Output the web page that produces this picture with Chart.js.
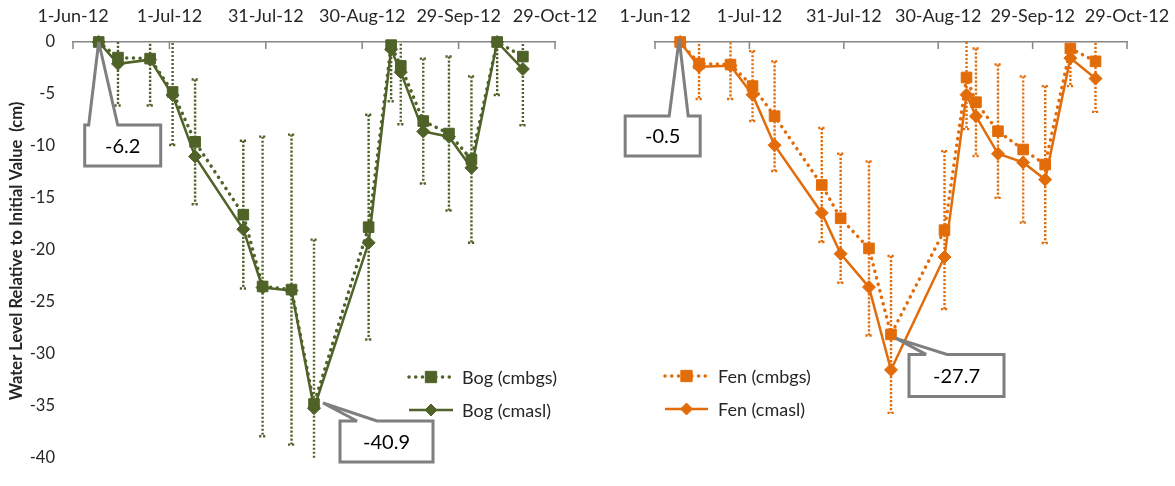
<!DOCTYPE html>
<html>
<head>
<meta charset="utf-8">
<title>Bog and Fen water level</title>
<script src="https://cdn.jsdelivr.net/npm/chart.js@4.4.1/dist/chart.umd.min.js"></script>
<style>
  html, body { margin: 0; padding: 0; background: #ffffff; }
  #wrap { position: relative; width: 1175px; height: 486px; overflow: hidden; }
  #wrap canvas { position: absolute; left: 0; top: 0; }
</style>
</head>
<body>
<div id="wrap">
  <canvas id="bogChart" width="1175" height="486"></canvas>
  <canvas id="fenChart" width="1175" height="486"></canvas>
</div>
<script>
// ---- data -------------------------------------------------------------
const sampleDates = [
  '2012-06-09', '2012-06-15', '2012-06-25', '2012-07-02', '2012-07-09',
  '2012-07-24', '2012-07-30', '2012-08-08', '2012-08-15', '2012-09-01',
  '2012-09-08', '2012-09-11', '2012-09-18', '2012-09-26', '2012-10-03',
  '2012-10-11', '2012-10-19'
];
const axisTickDates = ['2012-06-01', '2012-07-01', '2012-07-31', '2012-08-30', '2012-09-29', '2012-10-29'];
const yTicks = [0, -5, -10, -15, -20, -25, -30, -35, -40];

// Bog: change in water level (cm), below ground surface and above sea level
const bogCmbgs = [0, -1.5, -1.6, -4.8, -9.6, -16.6, -23.5, -23.8, -34.8, -17.8, -0.3, -2.3, -7.6, -8.8, -11.3, 0, -1.4];
const bogCmasl = [0, -2.1, -1.7, -5.1, -11.0, -18.0, -23.6, -23.9, -35.2, -19.3, -0.7, -2.9, -8.6, -9.1, -12.1, 0, -2.6];
const bogSD    = [4.6, 4.6, 4.5, 5.1, 6.0, 7.1, 14.4, 14.9, 15.8, 10.8, 5.4, 5.6, 6.0, 7.4, 8.0, 5.1, 6.6];

// Fen: change in water level (cm)
const fenCmbgs = [0, -2.0, -2.1, -4.1, -6.9, -13.3, -16.4, -19.2, -27.2, -17.5, -3.3, -5.6, -8.3, -10.0, -11.4, -0.6, -1.8];
const fenCmasl = [0, -2.3, -2.2, -4.9, -9.6, -15.9, -19.7, -22.8, -30.5, -20.0, -4.9, -6.9, -10.4, -11.2, -12.8, -1.5, -3.4];
const fenSD    = [3.4, 3.3, 3.2, 3.25, 5.1, 5.3, 6.0, 8.1, 7.3, 7.35, 4.8, 5.0, 6.2, 6.8, 7.3, 3.5, 4.7];

// callout notes attached to sample points
const bogCalloutText  = ['-6.2', '-40.9'];
const bogCalloutIndex = [0, 8];
const fenCalloutText  = ['-0.5', '-27.7'];
const fenCalloutIndex = [0, 8];

// ---- styling ----------------------------------------------------------
const GREEN = '#4f6228';
const ORANGE = '#e36c0a';
const AXIS_GREY = '#868686';
const TEXT = '#262626';
const FONT = 'Lato, "Open Sans", sans-serif';

Chart.defaults.font.family = FONT;

const MONTHS = ['Jan','Feb','Mar','Apr','May','Jun','Jul','Aug','Sep','Oct','Nov','Dec'];
const ORIGIN = Date.UTC(2012, 5, 1);
const toDay = s => (Date.parse(s + 'T00:00:00Z') - ORIGIN) / 86400000;
const dayLabel = v => {
  const d = new Date(ORIGIN + v * 86400000);
  return d.getUTCDate() + '-' + MONTHS[d.getUTCMonth()] + '-' + String(d.getUTCFullYear()).slice(2);
};

const sampleDays = sampleDates.map(toDay);
const tickDays = axisTickDates.map(toDay);

// ---- plugins ----------------------------------------------------------
function errorBarPlugin(centers, sd, color) {
  return {
    id: 'errorBars',
    beforeDatasetsDraw(chart) {
      const { ctx, chartArea: a, scales: { x, y } } = chart;
      ctx.save();
      ctx.beginPath();
      ctx.rect(a.left - 10, a.top, a.right - a.left + 20, a.bottom - a.top);
      ctx.clip();
      ctx.strokeStyle = color;
      ctx.lineWidth = 2.4;
      ctx.setLineDash([2.2, 1.8]);
      centers.forEach((c, i) => {
        const px = x.getPixelForValue(sampleDays[i]);
        const hi = y.getPixelForValue(c + sd[i]);
        const lo = y.getPixelForValue(c - sd[i]);
        ctx.beginPath();
        ctx.moveTo(px, hi);
        ctx.lineTo(px, lo);
        ctx.stroke();
        [hi, lo].forEach(py => {
          ctx.beginPath();
          ctx.moveTo(px - 3.5, py);
          ctx.lineTo(px + 3.5, py);
          ctx.stroke();
        });
      });
      ctx.restore();
    }
  };
}

const tickMarkPlugin = {
  id: 'tickMarks',
  beforeDatasetsDraw(chart) {
    const { ctx, chartArea: a, scales: { x } } = chart;
    ctx.save();
    ctx.strokeStyle = AXIS_GREY;
    ctx.lineWidth = 1.5;
    tickDays.forEach(v => {
      const px = x.getPixelForValue(v);
      ctx.beginPath();
      ctx.moveTo(px, a.top);
      ctx.lineTo(px, a.top + 7);
      ctx.stroke();
    });
    ctx.restore();
  }
};

function drawMarker(ctx, style, x, y, r, color) {
  ctx.save();
  ctx.fillStyle = color;
  ctx.strokeStyle = color;
  ctx.lineWidth = 1;
  ctx.setLineDash([]);
  ctx.beginPath();
  if (style === 'rect') {
    const s = r * Math.SQRT1_2;
    ctx.rect(x - s, y - s, 2 * s, 2 * s);
  } else {
    ctx.moveTo(x - r, y);
    ctx.lineTo(x, y - r);
    ctx.lineTo(x + r, y);
    ctx.lineTo(x, y + r);
    ctx.closePath();
  }
  ctx.fill();
  ctx.stroke();
  ctx.restore();
}

function keyPlugin(rows) {
  return {
    id: 'seriesKey',
    afterDatasetsDraw(chart) {
      const ctx = chart.ctx;
      chart.data.datasets.forEach((ds, i) => {
        const k = rows[i];
        ctx.save();
        ctx.strokeStyle = ds.borderColor;
        ctx.lineWidth = ds.borderWidth;
        ctx.lineCap = ds.borderCapStyle || 'butt';
        ctx.setLineDash(ds.borderDash || []);
        ctx.beginPath();
        ctx.moveTo(k.x0, k.y);
        ctx.lineTo(k.x1, k.y);
        ctx.stroke();
        ctx.restore();
        drawMarker(ctx, ds.pointStyle, (k.x0 + k.x1) / 2, k.y, k.r, ds.borderColor);
        ctx.save();
        ctx.fillStyle = TEXT;
        ctx.font = '18px ' + FONT;
        ctx.textAlign = 'left';
        ctx.textBaseline = 'middle';
        ctx.fillText(ds.label, k.tx, k.y + 1);
        ctx.restore();
      });
    }
  };
}

function calloutPlugin(values, indices, texts, shapes) {
  return {
    id: 'callouts',
    afterDraw(chart) {
      const { ctx, scales: { x, y } } = chart;
      texts.forEach((t, n) => {
        const i = indices[n];
        const g = shapes[n];
        const ax = x.getPixelForValue(sampleDays[i]);
        const ay = y.getPixelForValue(values[i]);
        const L = ax + g.dx, T = ay + g.dy, R = L + g.w, B = T + g.h;
        ctx.save();
        ctx.beginPath();
        ctx.moveTo(L, T);
        ctx.lineTo(ax + g.b1, T);
        ctx.lineTo(ax + g.tx, ay + g.ty);
        ctx.lineTo(ax + g.b2, T);
        ctx.lineTo(R, T);
        ctx.lineTo(R, B);
        ctx.lineTo(L, B);
        ctx.closePath();
        ctx.fillStyle = '#ffffff';
        ctx.fill();
        ctx.lineWidth = 3;
        ctx.lineJoin = 'miter';
        ctx.miterLimit = 3;
        ctx.strokeStyle = '#7f7f7f';
        ctx.stroke();
        ctx.fillStyle = '#000000';
        ctx.font = '20px ' + FONT;
        ctx.textAlign = 'center';
        ctx.textBaseline = 'middle';
        ctx.fillText(t, (L + R) / 2, (T + B) / 2 + 1);
        ctx.restore();
      });
    }
  };
}

const yTitlePlugin = {
  id: 'yTitle',
  afterDraw(chart) {
    const ctx = chart.ctx;
    ctx.save();
    ctx.translate(17, 251);
    ctx.rotate(-Math.PI / 2);
    ctx.fillStyle = TEXT;
    ctx.font = 'bold 16.5px ' + FONT;
    ctx.textAlign = 'center';
    ctx.textBaseline = 'middle';
    ctx.fillText('Water Level Relative to Initial Value  (cm)', 0, 0);
    ctx.restore();
  }
};

// ---- panels -----------------------------------------------------------
function buildPanel(canvasId, p) {
  const pts = arr => sampleDays.map((d, i) => ({ x: d, y: arr[i] }));
  const plugins = [
    tickMarkPlugin,
    errorBarPlugin(p.cmbgs, p.sd, p.color),
    keyPlugin(p.key),
    calloutPlugin(p.cmbgs, p.calloutIndex, p.calloutText, p.calloutShape)
  ];
  if (p.showY) plugins.push(yTitlePlugin);

  return new Chart(document.getElementById(canvasId), {
    type: 'line',
    data: {
      datasets: [
        {
          label: p.names[0],
          data: pts(p.cmbgs),
          borderColor: p.color,
          backgroundColor: p.color,
          borderWidth: 3.5,
          borderDash: [0.1, 6.6],
          borderCapStyle: 'round',
          pointStyle: 'rect',
          pointRadius: 7.5,
          pointBorderWidth: 1,
          pointBackgroundColor: p.color,
          pointBorderColor: p.color,
          tension: 0,
          clip: false
        },
        {
          label: p.names[1],
          data: pts(p.cmasl),
          borderColor: p.color,
          backgroundColor: p.color,
          borderWidth: 2.5,
          pointStyle: 'rectRot',
          pointRadius: 6.5,
          pointBorderWidth: 1,
          pointBackgroundColor: p.color,
          pointBorderColor: p.color,
          tension: 0,
          clip: false
        }
      ]
    },
    options: {
      responsive: false,
      animation: false,
      devicePixelRatio: 1,
      events: [],
      layout: { padding: p.padding },
      plugins: { legend: { display: false }, tooltip: { enabled: false } },
      scales: {
        x: {
          type: 'linear',
          position: 'top',
          min: 0,
          max: 150,
          afterBuildTicks: s => { s.ticks = tickDays.map(v => ({ value: v })); },
          afterFit: s => { s.height = 42; s.paddingLeft = 0; s.paddingRight = 0; },
          ticks: {
            autoSkip: false,
            maxRotation: 0,
            padding: 15,
            color: TEXT,
            font: { size: 18 },
            callback: v => dayLabel(v)
          },
          grid: { display: false, drawTicks: false },
          border: { display: true, color: AXIS_GREY, width: 1.5 }
        },
        y: {
          type: 'linear',
          min: -40,
          max: 0,
          afterBuildTicks: s => { s.ticks = yTicks.map(v => ({ value: v })); },
          afterFit: s => { s.width = p.yWidth; },
          ticks: { display: p.showY, padding: 18, color: TEXT, font: { size: 16.5 } },
          grid: { display: false, drawTicks: false },
          border: { display: false }
        }
      }
    },
    plugins
  });
}

buildPanel('bogChart', {
  names: ['Bog (cmbgs)', 'Bog (cmasl)'],
  color: GREEN,
  cmbgs: bogCmbgs,
  cmasl: bogCmasl,
  sd: bogSD,
  showY: true,
  yWidth: 73,
  padding: { left: 0, top: 0, right: 620, bottom: 14 },
  key: [
    { x0: 409, x1: 453, y: 377, tx: 462, r: 8 },
    { x0: 409, x1: 453, y: 410, tx: 462, r: 6 }
  ],
  calloutIndex: bogCalloutIndex,
  calloutText: bogCalloutText,
  calloutShape: [
    { dx: -14, dy: 83, w: 76, h: 41, b1: -10, b2: 19, tx: 0, ty: 0 },
    { dx: 26, dy: 17, w: 93, h: 41, b1: 43, b2: 63, tx: 9, ty: -1 }
  ]
});

buildPanel('fenChart', {
  names: ['Fen (cmbgs)', 'Fen (cmasl)'],
  color: ORANGE,
  cmbgs: fenCmbgs,
  cmasl: fenCmasl,
  sd: fenSD,
  showY: false,
  yWidth: 655,
  padding: { left: 0, top: 0, right: 48, bottom: 14 },
  key: [
    { x0: 665, x1: 708, y: 376, tx: 718, r: 8 },
    { x0: 665, x1: 708, y: 409, tx: 718, r: 6 }
  ],
  calloutIndex: fenCalloutIndex,
  calloutText: fenCalloutText,
  calloutShape: [
    { dx: -55, dy: 74, w: 75, h: 40, b1: -11, b2: 8, tx: -1, ty: -3 },
    { dx: 18, dy: 20, w: 95, h: 42, b1: 35, b2: 56, tx: 5, ty: 4 }
  ]
});
</script>
</body>
</html>
